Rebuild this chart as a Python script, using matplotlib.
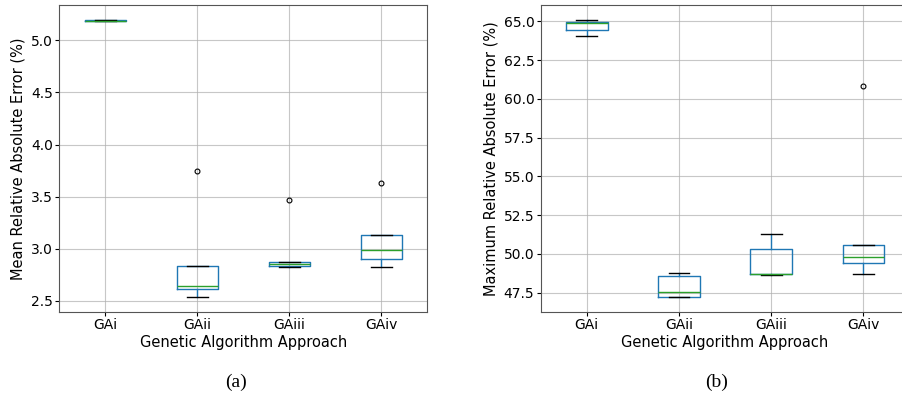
import matplotlib
matplotlib.use("Agg")
import matplotlib.pyplot as plt

# box statistics
approaches = ["GAi", "GAii", "GAiii", "GAiv"]

# (a) mean relative absolute error (%)
mean_whislo = [5.188, 2.535, 2.829, 2.83]
mean_q1 = [5.189, 2.612, 2.839, 2.905]
mean_med = [5.190, 2.647, 2.855, 2.986]
mean_q3 = [5.191, 2.833, 2.871, 3.13]
mean_whishi = [5.192, 2.833, 2.871, 3.13]
mean_fliers = [[], [3.747], [3.467], [3.63]]

# (b) maximum relative absolute error (%)
max_whislo = [64.07, 47.19, 48.61, 48.68]
max_q1 = [64.42, 47.20, 48.68, 49.39]
max_med = [64.90, 47.55, 48.72, 49.82]
max_q3 = [64.93, 48.59, 50.29, 50.55]
max_whishi = [65.10, 48.74, 51.28, 50.55]
max_fliers = [[], [], [], [60.85]]


def make_stats(lo, q1, med, q3, hi, fl):
    return [dict(whislo=a, q1=b, med=c, q3=d, whishi=e, fliers=f, label=n)
            for a, b, c, d, e, f, n in zip(lo, q1, med, q3, hi, fl, approaches)]


def draw(ax, stats, ylabel):
    ax.bxp(stats, widths=0.45, showfliers=True,
           boxprops=dict(color="#1f77b4", linewidth=1.0),
           whiskerprops=dict(color="#1f77b4", linewidth=1.0),
           capprops=dict(color="black", linewidth=1.0),
           medianprops=dict(color="#2ca02c", linewidth=1.0),
           flierprops=dict(marker="o", markerfacecolor="none",
                           markeredgecolor="black", markersize=3.5,
                           markeredgewidth=0.8))
    ax.grid(True, color="#b0b0b0", linewidth=0.8, alpha=0.7)
    ax.set_axisbelow(True)
    ax.set_xlim(0.5, 4.5)
    ax.set_xlabel("Genetic Algorithm Approach", fontsize=10.5, labelpad=2)
    ax.set_ylabel(ylabel, fontsize=10.5, labelpad=4)
    ax.tick_params(labelsize=10, length=3, pad=1.5)
    for s in ax.spines.values():
        s.set_color("#555555")


fig = plt.figure(figsize=(9.03, 3.95), dpi=100)
ax1 = fig.add_axes([0.0657, 0.2109, 0.4075, 0.7757])
ax2 = fig.add_axes([0.5987, 0.2109, 0.4086, 0.7757])

draw(ax1, make_stats(mean_whislo, mean_q1, mean_med, mean_q3, mean_whishi, mean_fliers),
     "Mean Relative Absolute Error (%)")
ax1.set_ylim(2.397, 5.336)
ax1.set_yticks([2.5, 3.0, 3.5, 4.0, 4.5, 5.0])

draw(ax2, make_stats(max_whislo, max_q1, max_med, max_q3, max_whishi, max_fliers),
     "Maximum Relative Absolute Error (%)")
ax2.set_ylim(46.27, 66.03)
ax2.set_yticks([47.5, 50.0, 52.5, 55.0, 57.5, 60.0, 62.5, 65.0])

fig.text(236 / 903, 1 - 382 / 395, "(a)", ha="center", va="center",
         fontsize=14, family="Liberation Serif")
fig.text(717 / 903, 1 - 382 / 395, "(b)", ha="center", va="center",
         fontsize=14, family="Liberation Serif")

fig.savefig("out.png", dpi=100)
